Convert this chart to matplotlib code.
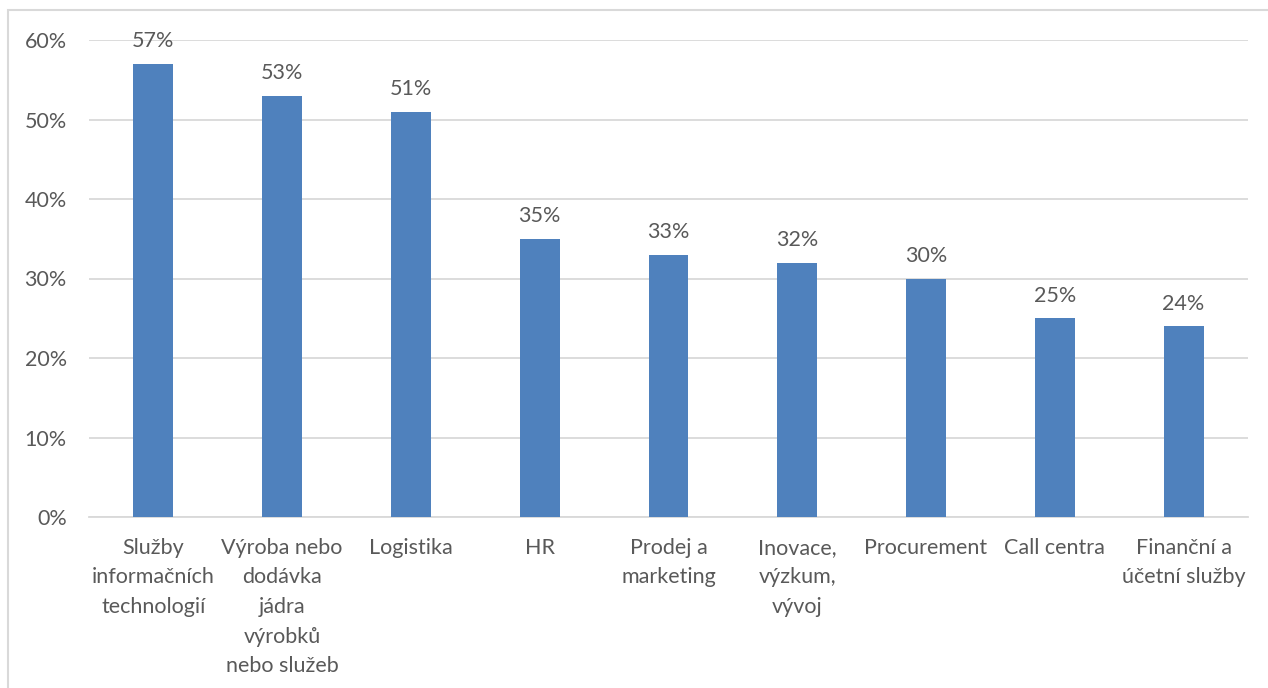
import matplotlib.pyplot as plt
from matplotlib.patches import Rectangle

categories = ["Služby\ninformačních\ntechnologií", "Výroba nebo\ndodávka\njádra\nvýrobků\nnebo služeb",
              "Logistika", "HR", "Prodej a\nmarketing", "Inovace,\nvýzkum,\nvývoj",
              "Procurement", "Call centra", "Finanční a\núčetní služby"]
values = [57, 53, 51, 35, 33, 32, 30, 25, 24]
yticks = [0, 10, 20, 30, 40, 50, 60]

plt.rcParams['font.family'] = ['Lato', 'DejaVu Sans']
text_color = "#595959"
grid_color = "#D9D9D9"
bar_color = "#4F81BD"
fs = 15.5

fig = plt.figure(figsize=(12.68, 6.88), dpi=100)
ax = fig.add_axes([89 / 1268, 1 - 517 / 688, (1248 - 89) / 1268, (517 - 40) / 688])

x = list(range(len(categories)))
bars = ax.bar(x, values, width=0.31, color=bar_color, zorder=3)
for xi, v in zip(x, values):
    ax.annotate(f"{v}%", (xi, v), xytext=(0, 9), textcoords="offset points",
                ha="center", va="bottom", fontsize=fs, color=text_color)

ax.set_xlim(-0.5, len(categories) - 0.5)
ax.set_ylim(0, 60)
ax.set_yticks(yticks)
ax.set_yticklabels([f"{t}%" for t in yticks], fontsize=fs, color=text_color)
ax.set_xticks(x)
ax.set_xticklabels(categories, fontsize=fs, color=text_color, linespacing=1.6)
ax.tick_params(length=0)
ax.tick_params(axis="y", pad=16)
ax.tick_params(axis="x", pad=15)
ax.yaxis.grid(True, color=grid_color, linewidth=1.3, zorder=0)
for s in ["top", "right", "left"]:
    ax.spines[s].set_visible(False)
ax.spines["bottom"].set_color(grid_color)
ax.spines["bottom"].set_linewidth(1.3)

fig.patches.append(Rectangle((8 / 1268, -0.1), 1.1, 1.1 - 10 / 688, transform=fig.transFigure,
                             fill=False, edgecolor=grid_color, linewidth=1.5))

fig.savefig("out.png", dpi=100)
